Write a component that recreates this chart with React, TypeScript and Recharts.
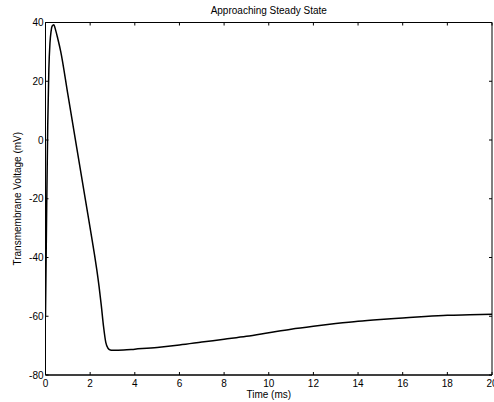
import React from 'react';
import { LineChart, Line, XAxis, YAxis, ReferenceArea } from 'recharts';

const times = [0, 0.05, 0.1, 0.15, 0.2, 0.25, 0.3, 0.37, 0.45, 0.55, 0.68, 1.0, 1.4, 1.8, 2.1, 2.2, 2.3, 2.4, 2.5, 2.6, 2.7, 2.8, 2.9, 3.0, 3.5, 4, 5, 6, 7, 8, 9, 10, 11, 12, 13, 14, 15, 16, 17, 18, 19, 20];
const volts = [-60, -25, 5, 24, 33, 37, 38.8, 39.2, 37.5, 34.5, 30.2, 15.6, -2.7, -20.9, -34.6, -39.3, -44.3, -49.9, -56.4, -63.5, -68.9, -70.9, -71.5, -71.6, -71.5, -71.2, -70.6, -69.8, -68.8, -67.8, -66.8, -65.6, -64.4, -63.4, -62.5, -61.7, -61.1, -60.6, -60.1, -59.7, -59.5, -59.3];
const xTicks = [0, 2, 4, 6, 8, 10, 12, 14, 16, 18, 20];
const yTicks = [-80, -60, -40, -20, 0, 20, 40];
const title = 'Approaching Steady State';
const xLabel = 'Time (ms)';
const yLabel = 'Transmembrane Voltage (mV)';

const data = times.map((t, i) => ({ t, v: volts[i] }));

const W = 494;
const H = 402;
const LEFT = 45.5;
const RIGHT = 492;
const TOP = 22.5;
const BOTTOM = 375;
const FONT = 'Liberation Sans, Arial, sans-serif';
const TL = 3;

const XTick = (props: any) => {
  const { x, payload } = props;
  return (
    <g>
      <line x1={x} x2={x} y1={BOTTOM} y2={BOTTOM - TL} stroke="#000" strokeWidth={1} />
      <line x1={x} x2={x} y1={TOP} y2={TOP + TL} stroke="#000" strokeWidth={1} />
      <text x={x} y={386.5} textAnchor="middle" fontSize={10} fontFamily={FONT} fill="#000">
        {payload.value}
      </text>
    </g>
  );
};

const YTick = (props: any) => {
  const { y, payload } = props;
  return (
    <g>
      <line x1={LEFT} x2={LEFT + TL} y1={y} y2={y} stroke="#000" strokeWidth={1} />
      <line x1={RIGHT} x2={RIGHT - TL} y1={y} y2={y} stroke="#000" strokeWidth={1} />
      <text x={LEFT - 2} y={y + 3.5} textAnchor="end" fontSize={10} fontFamily={FONT} fill="#000">
        {payload.value}
      </text>
    </g>
  );
};

export default function App() {
  return (
    <div style={{ position: 'absolute', left: 0, top: 0, width: W, height: H, background: '#fff' }}>
      <LineChart
        width={W}
        height={H}
        data={data}
        margin={{ top: TOP, right: W - RIGHT, bottom: 0, left: 0 }}
      >
        <XAxis
          dataKey="t"
          type="number"
          domain={[0, 20]}
          ticks={xTicks}
          interval={0}
          height={H - BOTTOM}
          axisLine={{ stroke: '#000', strokeWidth: 1 }}
          tickLine={false}
          tick={<XTick />}
          allowDataOverflow
        />
        <YAxis
          type="number"
          domain={[-80, 40]}
          ticks={yTicks}
          interval={0}
          width={LEFT}
          axisLine={{ stroke: '#000', strokeWidth: 1 }}
          tickLine={false}
          tick={<YTick />}
          allowDataOverflow
        />
        <ReferenceArea x1={0} x2={20} y1={-80} y2={40} fill="none" stroke="#000" strokeWidth={1} />
        <Line
          type="monotone"
          dataKey="v"
          stroke="#000"
          strokeWidth={1.5}
          dot={false}
          isAnimationActive={false}
        />
        <text x={(LEFT + RIGHT) / 2} y={14} textAnchor="middle" fontSize={10} fontFamily={FONT} fill="#000">
          {title}
        </text>
        <text x={(LEFT + RIGHT) / 2} y={398} textAnchor="middle" fontSize={10} fontFamily={FONT} fill="#000">
          {xLabel}
        </text>
        <text
          x={0}
          y={0}
          transform={`translate(21, ${(TOP + BOTTOM) / 2}) rotate(-90)`}
          textAnchor="middle"
          fontSize={10}
          fontFamily={FONT}
          fill="#000"
        >
          {yLabel}
        </text>
      </LineChart>
    </div>
  );
}
